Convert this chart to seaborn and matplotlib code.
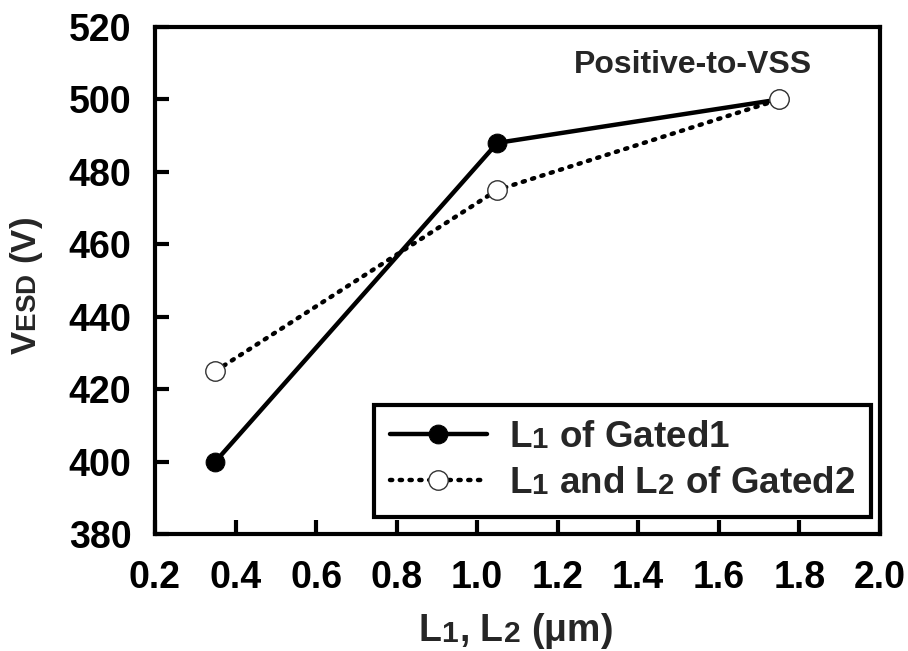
import matplotlib
matplotlib.use("Agg")
import matplotlib.pyplot as plt
import seaborn as sns
import pandas as pd

# Channel length (um) and ESD level (V) for the two gate layouts
lengths = [0.35, 1.05, 1.75]
vesd_gated1 = [400, 488, 500]
vesd_gated2 = [425, 475, 500]
series_names = [r"L$_\mathbf{1}$ of Gated1", r"L$_\mathbf{1}$ and L$_\mathbf{2}$ of Gated2"]
x_ticks = [0.2, 0.4, 0.6, 0.8, 1.0, 1.2, 1.4, 1.6, 1.8, 2.0]
y_ticks = [380, 400, 420, 440, 460, 480, 500, 520]

# Subscripts: slightly smaller, sitting near the baseline
try:
    import matplotlib._mathtext as _mt
    _mt.SHRINK_FACTOR = 0.8
    _mt.FontConstantsBase.sub1 = 0.05
    _mt.FontConstantsBase.subdrop = 0.05
except Exception:
    pass

sns.set_theme(style="white")
plt.rcParams["font.family"] = ["Liberation Sans", "DejaVu Sans"]
plt.rcParams["font.weight"] = "bold"
plt.rcParams["mathtext.fontset"] = "custom"
plt.rcParams["mathtext.rm"] = "Liberation Sans:bold"
plt.rcParams["mathtext.bf"] = "Liberation Sans:bold"
plt.rcParams["mathtext.it"] = "Liberation Sans:bold"

df = pd.DataFrame({
    "L": lengths * 2,
    "V": vesd_gated1 + vesd_gated2,
    "series": [series_names[0]] * 3 + [series_names[1]] * 3,
})

fig = plt.figure(figsize=(9.08, 6.51), dpi=100)
ax = fig.add_axes([0.1707, 0.1797, 0.7983, 0.7788])

d1 = df[df.series == series_names[0]]
d2 = df[df.series == series_names[1]]
sns.lineplot(data=d1, x="L", y="V", ax=ax, color="black", linewidth=3.2,
             marker="o", markersize=13.5, markerfacecolor="black",
             markeredgecolor="black", label=series_names[0], zorder=3)
sns.lineplot(data=d2, x="L", y="V", ax=ax, color="black", linewidth=3.2,
             linestyle=(0, (0.5, 1.7)), dash_capstyle="round",
             marker="o", markersize=14, markerfacecolor="white",
             markeredgecolor="#333333", markeredgewidth=1.0,
             label=series_names[1], zorder=4)

ax.set_xlim(0.2, 2.0)
ax.set_ylim(380, 520)
ax.set_xticks(x_ticks)
ax.set_yticks(y_ticks)
ax.set_xticklabels([f"{v:.1f}" for v in x_ticks], fontsize=27, fontweight="bold")
ax.set_yticklabels([str(v) for v in y_ticks], fontsize=27, fontweight="bold")
ax.tick_params(axis="both", direction="in", length=10, width=3, color="black",
               labelcolor="black", top=False, right=False,
               bottom=True, left=True)
ax.tick_params(axis="x", pad=19)
ax.tick_params(axis="y", pad=17)

for s in ax.spines.values():
    s.set_visible(True)
    s.set_color("black")
    s.set_linewidth(3)

ax.set_xlabel(r"L$_\mathbf{1}$, L$_\mathbf{2}$ ($\mathbf{\mu}$m)", fontsize=27,
              fontweight="bold")
ax.set_ylabel(r"V$_\mathbf{ESD}$ (V)", fontsize=25, fontweight="bold")
ax.xaxis.set_label_coords(0.497, -0.152)
ax.yaxis.set_label_coords(-0.152, 0.489)

ax.text(0.742, 0.925, "Positive-to-VSS", transform=ax.transAxes,
        fontsize=23, fontweight="bold", ha="center", va="center")

leg = ax.legend(loc="lower right", bbox_to_anchor=(0.988, 0.034), fontsize=26.5,
                frameon=True, fancybox=False, framealpha=1, handlelength=2.65,
                handletextpad=0.6, borderpad=0.42, labelspacing=0.3,
                borderaxespad=0)
leg.get_frame().set_edgecolor("black")
leg.get_frame().set_linewidth(3)
for t in leg.get_texts():
    t.set_fontweight("bold")

fig.savefig("out.png", dpi=100)
